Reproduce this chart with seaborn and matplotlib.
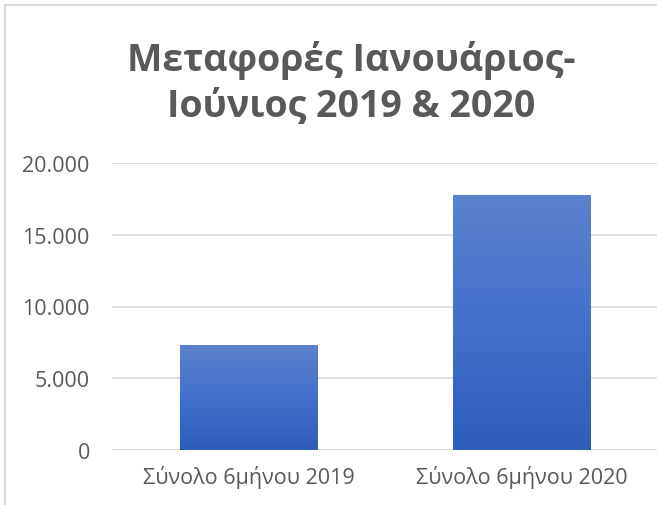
import numpy as np
import pandas as pd
import seaborn as sns
import matplotlib.pyplot as plt
from matplotlib.lines import Line2D
from matplotlib.colors import LinearSegmentedColormap
from matplotlib.ticker import FuncFormatter

# Δεδομένα
katigories = ['Σύνολο 6μήνου 2019', 'Σύνολο 6μήνου 2020']
metafores = [7300, 17800]
titlos = 'Μεταφορές Ιανουάριος-\nΙούνιος 2019 & 2020'

df = pd.DataFrame({'katigoria': katigories, 'timi': metafores})

sns.set_style('white')
plt.rcParams['font.family'] = ['Open Sans', 'DejaVu Sans']

fig = plt.figure(figsize=(6.57, 5.06), dpi=100)
ax = fig.add_axes([112 / 657, 1 - 451 / 506, 1 - 112 / 657, (451 - 164) / 506])

sns.barplot(data=df, x='katigoria', y='timi', ax=ax, width=0.505,
            color='#4472C4', edgecolor='none', zorder=3)

# διαβάθμιση χρώματος στις μπάρες
cmap = LinearSegmentedColormap.from_list('grad', ['#2E5DB9', '#4270CB', '#5B82CC'])
grad = np.linspace(0, 1, 256).reshape(-1, 1)
for p in ax.patches:
    x0, y0 = p.get_x(), p.get_y()
    w, h = p.get_width(), p.get_height()
    im = ax.imshow(grad, cmap=cmap, aspect='auto', origin='lower',
                   extent=[x0, x0 + w, y0, y0 + h], zorder=4)
    im.set_clip_path(p)

ax.set_xlim(-0.502, 1.494)
ax.set_ylim(0, 20000)
ax.set_yticks([0, 5000, 10000, 15000, 20000])
ax.yaxis.set_major_formatter(FuncFormatter(lambda v, pos: f'{int(v):,}'.replace(',', '.')))
ax.grid(axis='y', color='#D9D9D9', linewidth=1.2, zorder=0)
ax.set_xlabel('')
ax.set_ylabel('')
for s in ax.spines.values():
    s.set_visible(False)
ax.tick_params(axis='both', length=0, labelsize=15.5, labelcolor='#595959')
ax.tick_params(axis='y', pad=16)
ax.tick_params(axis='x', pad=11)

fig.text(0.535, 0.835, titlos, ha='center', va='center', fontsize=27,
         fontweight='bold', color='#595959', linespacing=1.25)

# πλαίσιο γραφήματος
fig.add_artist(Line2D([5 / 657, 5 / 657], [0, 1 - 6 / 506], color='#D9D9D9', linewidth=1.5))
fig.add_artist(Line2D([5 / 657, 1], [1 - 6 / 506, 1 - 6 / 506], color='#D9D9D9', linewidth=1.5))

plt.savefig('out.png', dpi=100)
